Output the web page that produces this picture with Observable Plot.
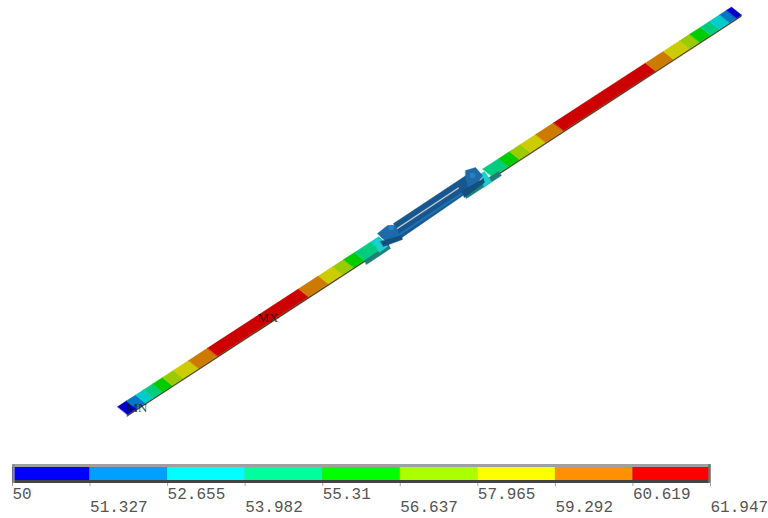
<!DOCTYPE html>
<html>
<head>
<meta charset="utf-8">
<script src="https://cdn.jsdelivr.net/npm/d3@7"></script>
<script src="https://cdn.jsdelivr.net/npm/@observablehq/plot@0.6"></script>
<style>
html,body{margin:0;padding:0;background:#fff;overflow:hidden}
#app{position:relative;width:768px;height:518px}
#app svg{position:absolute;left:0;display:block;background:transparent}
</style>
</head>
<body>
<div id="app"></div>
<script>
// Contour legend
const levelValues = [50, 51.327, 52.655, 53.982, 55.31, 56.637, 57.965, 59.292, 60.619, 61.947];
const levelLabels = ["50", "51.327", "52.655", "53.982", "55.31", "56.637", "57.965", "59.292", "60.619", "61.947"];
const legendColors = ["#0000ff", "#00a0ff", "#00ffff", "#00ff9c", "#00ff00", "#aaff00", "#ffff00", "#ff9000", "#ff0000"];
// Shaded model colours for each contour band
const shadedColors = ["#0000cc", "#0078c4", "#00cccc", "#00cc80", "#00cc00", "#99cc00", "#cccc00", "#cc7a00", "#cc0000"];

// Band boundaries read along the strip's upper edge (image x) and the band index of each stretch
const leftStations = [117, 126, 135, 143, 152, 162, 173, 188, 207, 298, 318, 332, 343, 354, 370, 378];
const leftBands = [0, 1, 2, 3, 4, 5, 6, 7, 8, 7, 6, 5, 4, 3, 2];
const rightStations = [482, 498, 509, 520, 535, 553, 645, 663, 679, 689, 700, 709, 719, 726, 731];
const rightBands = [3, 4, 5, 6, 7, 8, 7, 6, 5, 4, 3, 2, 1, 0];

// Strip geometry
const edgeStart = [117, 406.2];
const edgeSlope = -0.651;
const widthVector = [10, 8];
const sideVector = [-0.4, 1.8];

// Central joint outlines (image x, y)
const jointParts = [
  {part: "bracketL", color: "#1e7f78", xs: [364, 388, 390, 366], ys: [260, 244, 248, 264]},
  {part: "bracketR", color: "#1e7f78", xs: [463, 498, 501, 466], ys: [193, 171, 175, 198]},
  {part: "collarL", color: "#1fcfd0", xs: [373, 378, 387, 379], ys: [241, 238, 246, 252]},
  {part: "collarR", color: "#1fcfd0", xs: [479, 484, 491, 484], ys: [174, 171, 181, 187]},
  {part: "core", color: "#17568e", xs: [393, 470, 480, 400], ys: [223, 172, 183, 238]},
  {part: "frontStripe", color: "#1f72ad", xs: [399, 472, 473, 400], ys: [233, 185, 186.5, 234.5]},
  {part: "slit", color: "#d8dad2", xs: [396, 458, 458, 396], ys: [228, 187, 188, 229]},
  {part: "blockL", color: "#1c6aa6", xs: [377, 387, 395, 400, 388, 382], ys: [233, 225, 225, 238, 243, 238]},
  {part: "blockR", color: "#1c6aa6", xs: [465, 475, 482, 477, 468, 465], ys: [170, 167, 175, 183, 187, 178]},
  {part: "wingL", color: "#124f80", xs: [380, 401, 402, 383], ys: [241, 235, 239, 246]},
  {part: "wingR", color: "#124f80", xs: [461, 483, 484, 464], ys: [191, 178, 182, 197]}
];
const boltX = [391, 472];
const boltY = [227, 175];
const probeLabels = ["MN", "MX"];
const probeX = [126, 257];
const probeY = [407, 317];

function upper(x) { return edgeStart[1] + edgeSlope * (x - edgeStart[0]); }
function quads(stations, bands, prefix) {
  const rows = [];
  bands.forEach((b, i) => {
    const a = stations[i], c = stations[i + 1];
    const corners = [
      [a, upper(a)], [c, upper(c)],
      [c + widthVector[0], upper(c) + widthVector[1]],
      [a + widthVector[0], upper(a) + widthVector[1]]
    ];
    corners.forEach(([x, y]) => rows.push({id: prefix + i, x, y, color: shadedColors[b]}));
  });
  return rows;
}
function side(stations, id) {
  const a = stations[0], c = stations[stations.length - 1];
  const p = [
    [a + widthVector[0], upper(a) + widthVector[1]],
    [c + widthVector[0], upper(c) + widthVector[1]],
    [c + widthVector[0] + sideVector[0], upper(c) + widthVector[1] + sideVector[1]],
    [a + widthVector[0] + sideVector[0], upper(a) + widthVector[1] + sideVector[1]]
  ];
  return p.map(([x, y]) => ({id, x, y, color: "#4a4020"}));
}
const jointRows = jointParts.flatMap(p => p.xs.map((x, i) => ({id: p.part, x, y: p.ys[i], color: p.color})));
const rows = [
  ...side(leftStations, "sideL"), ...side(rightStations, "sideR"),
  ...quads(leftStations, leftBands, "L"), ...quads(rightStations, rightBands, "R"),
  ...jointRows
];
const bolts = boltX.map((x, i) => ({x, y: boltY[i]}));
const probes = probeLabels.map((t, i) => ({t, x: probeX[i], y: probeY[i]}));

const model = Plot.plot({
  width: 768, height: 450, margin: 0,
  x: {axis: null, domain: [0, 768], range: [0, 768]},
  y: {axis: null, domain: [0, 450], range: [0, 450]},
  color: {type: "identity"},
  marks: [
    Plot.line(rows, {x: "x", y: "y", z: "id", fill: "color", stroke: "color", strokeWidth: 0.4, curve: "linear-closed"}),
    Plot.dot(bolts, {x: "x", y: "y", r: 2.8, fill: "#2a80c8"}),
    Plot.text(probes, {x: "x", y: "y", text: "t", textAnchor: "start", fontFamily: "Liberation Serif", fontSize: 13, fill: "#111", fillOpacity: 0.8})
  ]
});
model.style.top = "0px";

const bands = legendColors.map((color, i) => ({a: levelValues[i], b: levelValues[i + 1], color}));
const ticks = levelValues.map((v, i) => ({v, label: levelLabels[i], row: i % 2}));
const lo = levelValues[0], hi = levelValues[levelValues.length - 1];

const legend = Plot.plot({
  width: 768, height: 68, margin: 0,
  x: {axis: null, domain: [lo, hi], range: [12, 710]},
  y: {axis: null, domain: [0, 68], range: [0, 68]},
  color: {type: "identity"},
  marks: [
    Plot.rect([{}], {x1: lo, x2: hi, y1: 14, y2: 33, fill: "#a0a0a0"}),
    Plot.rect(bands, {x1: "a", x2: "b", y1: 17, y2: 30, fill: "color"}),
    Plot.rect([{}], {x1: lo, x2: hi, y1: 30, y2: 33, fill: "#444444"}),
    Plot.ruleX([lo], {y1: 14, y2: 33, stroke: "#8c8c8c", strokeWidth: 2.5, dx: 1}),
    Plot.ruleX([hi], {y1: 14, y2: 33, stroke: "#707070", strokeWidth: 2.5, dx: -1}),
    Plot.ruleX(ticks, {x: "v", y1: 33, y2: 36, stroke: "#a8a8a8", strokeWidth: 1}),
    Plot.text(ticks, {
      x: "v", y: d => d.row ? 57 : 44, text: "label", textAnchor: "start", dy: -0.5,
      fontFamily: "Liberation Mono", fontSize: 16, fill: "#555"
    })
  ]
});
legend.style.top = "450px";

document.getElementById("app").append(model, legend);
</script>
</body>
</html>
